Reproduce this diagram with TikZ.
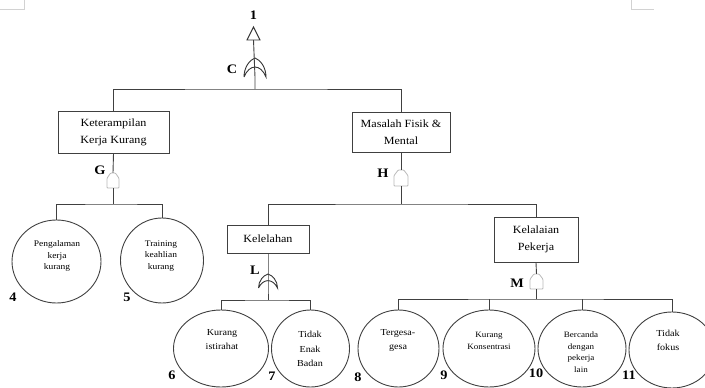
\documentclass[tikz,border=0pt]{standalone}
\usepackage{fontspec}
\setmainfont{Liberation Serif}[FakeStretch=1.1]
\usetikzlibrary{shapes.geometric}
\tikzset{
  conn/.style={draw=black!75, line width=0.9pt},
  evbox/.style={draw=black!75, line width=1pt, rectangle, align=center, inner sep=0pt, font=\fontsize{11}{17}\selectfont},
  evell/.style={draw=black!75, line width=0.9pt, ellipse, inner sep=0pt},
  etxt/.style={align=center, inner sep=0pt},
  lbl/.style={font=\fontsize{13}{13}\selectfont\bfseries, inner sep=0pt},
  gnode/.style={inner sep=0pt, draw=none},
  gatel/.style={draw=black!80, line width=0.9pt},
  andl/.style={draw=gray!55, line width=0.8pt, rounded corners=0.8pt},
  orgate/.pic={\draw[gatel] (-1,1) .. controls (-1,0) and (-0.5,-0.8) .. (0,-1) .. controls (0.5,-0.8) and (1,0) .. (1,1) .. controls (0.5,-0.4) and (-0.5,-0.4) .. (-1,1);},
  andgate/.pic={\draw[andl] (-1,1) -- (-1,-0.3) -- (-0.4,-1) -- (0.4,-1) -- (1,-0.3) -- (1,1) -- cycle;}
}
\begin{document}
\begin{tikzpicture}[x=1pt, y=-1pt]
\useasboundingbox (0,0) rectangle (705,388);
% corner marks
\draw[gray!35, line width=0.8pt] (0,9) -- (24,9) -- (24,0);
\draw[gray!35, line width=0.8pt] (631,0) -- (631,9) -- (654,9);

% top event
\node[lbl] (n1) at (253.5,15) {1};
\coordinate (T) at (253.5,40);
\draw[gatel] (247,40) -- (260,40) -- (253.5,27) -- cycle;
\node[gnode, minimum width=22pt, minimum height=19pt] (C) at (255,67.5) {};
\pic[xscale=11, yscale=9.5] at (C) {orgate};
\node[lbl] (lC) at (232,69) {C};
\coordinate (jC) at (255,89);
\draw[conn] (T) -- (C.south) -- (jC);

% level 2 boxes
\node[evbox, minimum width=111pt, minimum height=42pt] (K1) at (113.5,132) {Keterampilan\\Kerja Kurang};
\node[evbox, minimum width=98pt, minimum height=40pt] (K2) at (401,132) {Masalah Fisik \&\\Mental};
\draw[conn] (K1.north) |- (jC) -| (K2.north);

% gate G
\node[gnode, minimum width=12pt, minimum height=15pt] (G) at (113,180.5) {};
\pic[xscale=6, yscale=7.5] at (G) {andgate};
\node[lbl] (lG) at (100,170) {G};
\draw[conn] (K1.south) -- (G.north);
\coordinate (jG) at (113,204);
\draw[conn] (G.south) -- (jG);

% gate H
\node[gnode, minimum width=14pt, minimum height=16pt] (H) at (401,178) {};
\pic[xscale=7, yscale=8] at (H) {andgate};
\node[lbl] (lH) at (383,173) {H};
\draw[conn] (K2.south) -- (H.north);
\coordinate (jH) at (401,204);
\draw[conn] (H.south) -- (jH);

% G children
\node[evell, minimum width=89pt, minimum height=83pt] (e4) at (56.5,261.5) {};
\node[etxt, font=\fontsize{8.6}{11.8}\selectfont] (t4) at (57,256) {Pengalaman\\kerja\\kurang};
\node[evell, minimum width=83pt, minimum height=85pt] (e5) at (162,260.5) {};
\node[etxt, font=\fontsize{8.6}{11.8}\selectfont] (t5) at (161,256) {Training\\keahlian\\kurang};
\draw[conn] (e4.north) |- (jG) -| (e5.north);
\node[lbl] (l4) at (13,297) {4};
\node[lbl] (l5) at (127,297) {5};

% H children
\node[evbox, minimum width=82pt, minimum height=28pt] (K3) at (268,239) {Kelelahan};
\node[evbox, minimum width=84pt, minimum height=45pt] (K4) at (536,239.5) {Kelalaian\\Pekerja};
\draw[conn] (K3.north) |- (jH) -| (K4.north);

% gate L
\node[gnode, minimum width=19pt, minimum height=14pt] (L) at (268,281) {};
\pic[xscale=9.5, yscale=7] at (L) {orgate};
\node[lbl] (lL) at (255,270) {L};
\coordinate (jL) at (268,300);
\draw[conn] (K3.south) -- (L.south) -- (jL);

% gate M
\node[gnode, minimum width=13pt, minimum height=15pt] (M) at (536.5,281.5) {};
\pic[xscale=6.5, yscale=7.5] at (M) {andgate};
\node[lbl] (lM) at (517,283) {M};
\draw[conn] (K4.south) -- (M.north);
\coordinate (jM) at (536.5,299);
\draw[conn] (M.south) -- (jM);

% L children
\node[evell, minimum width=95pt, minimum height=77pt] (e6) at (221,348.5) {};
\node[etxt, font=\fontsize{9.2}{14}\selectfont] (t6) at (222,340) {Kurang\\istirahat};
\node[evell, minimum width=78pt, minimum height=77pt] (e7) at (310.5,348.5) {};
\node[etxt, font=\fontsize{9.2}{14.5}\selectfont] (t7) at (310,349) {Tidak\\Enak\\Badan};
\draw[conn] (e6.north) |- (jL) -| (e7.north);
\node[lbl] (l6) at (172,375) {6};
\node[lbl] (l7) at (272,376) {7};

% M children
\node[evell, minimum width=81pt, minimum height=77pt] (e8) at (398.5,348.5) {};
\node[etxt, font=\fontsize{9.2}{14}\selectfont] (t8) at (398,340) {Tergesa-\\gesa};
\node[evell, minimum width=92pt, minimum height=77pt] (e9) at (489,348.5) {};
\node[etxt, font=\fontsize{8.2}{12}\selectfont] (t9) at (489,341) {Kurang\\Konsentrasi};
\node[evell, minimum width=88pt, minimum height=77pt] (e10) at (582,348.5) {};
\node[etxt, font=\fontsize{8.2}{11.5}\selectfont] (t10) at (581,352) {Bercanda\\dengan\\pekerja\\lain};
\node[evell, minimum width=86pt, minimum height=76pt] (e11) at (672,350) {};
\node[etxt, font=\fontsize{9.2}{14}\selectfont] (t11) at (668,340) {Tidak\\fokus};
\draw[conn] (e8.north) |- (jM) -| (e11.north);
\draw[conn] (e9.north) -- (e9.north |- jM);
\draw[conn] (e10.north) -- (e10.north |- jM);
\node[lbl] (l8) at (358,377) {8};
\node[lbl] (l9) at (444,375) {9};
\node[lbl] (l10) at (536,373) {10};
\node[lbl] (l11) at (629,375) {11};
\end{tikzpicture}
\end{document}
